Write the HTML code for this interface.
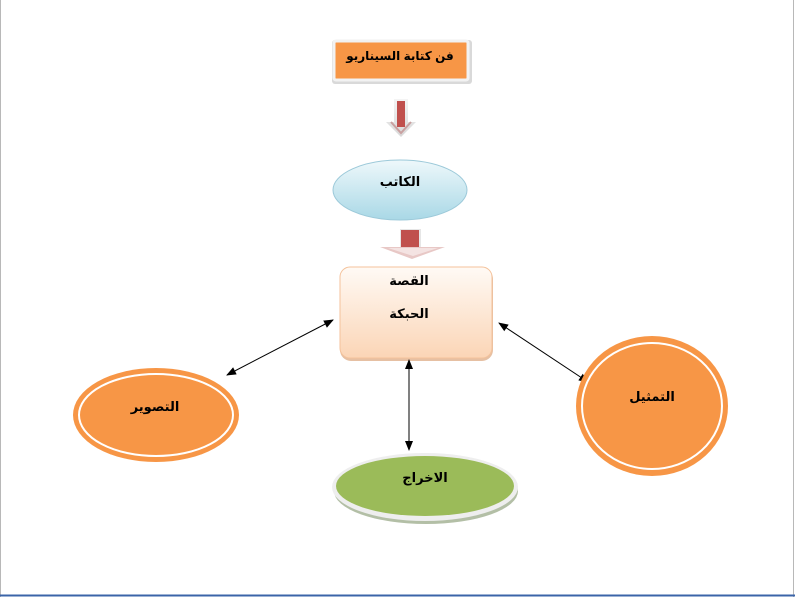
<!DOCTYPE html>
<html><head><meta charset="utf-8"><style>
html,body{margin:0;padding:0;background:#fff;}
body{width:795px;height:597px;overflow:hidden;}
text{font-family:"Liberation Sans","DejaVu Sans",sans-serif;font-weight:bold;font-size:13px;fill:#000;}
</style></head><body>
<svg width="795" height="597" viewBox="0 0 795 597" xmlns="http://www.w3.org/2000/svg">
<defs>
<linearGradient id="blue" x1="0" y1="0" x2="0" y2="1"><stop offset="0" stop-color="#eef8fb"/><stop offset="1" stop-color="#a9d8e6"/></linearGradient>
<linearGradient id="peach" x1="0" y1="0" x2="0" y2="1"><stop offset="0" stop-color="#fffaf5"/><stop offset="1" stop-color="#fbd5b6"/></linearGradient>
<linearGradient id="gray" x1="0" y1="0" x2="0" y2="1"><stop offset="0" stop-color="#f4f4f4"/><stop offset="1" stop-color="#d8d8d8"/></linearGradient>
<marker id="ah" markerWidth="10" markerHeight="10" refX="9" refY="5" orient="auto-start-reverse" markerUnits="userSpaceOnUse"><path d="M0,1 L10,5 L0,9 z" fill="#000"/></marker>
</defs>
<rect x="0" y="0" width="795" height="597" fill="#fff"/>
<line x1="0.5" y1="0" x2="0.5" y2="597" stroke="#b8b8b8"/>
<line x1="793.5" y1="0" x2="793.5" y2="597" stroke="#b8b8b8"/>
<line x1="0" y1="595.5" x2="795" y2="595.5" stroke="#3b64a8" stroke-width="2"/>

<rect x="332" y="40" width="140" height="44" rx="3" fill="#d9d9d9"/>
<rect x="334" y="41" width="134" height="39" rx="2" fill="#f79646" stroke="#f2f2f2" stroke-width="3"/>
<text x="400" y="60" text-anchor="middle" direction="rtl" style="font-size:12px;letter-spacing:-0.3px">فن كتابة السيناريو</text>

<path d="M394,99 h14 v23 h8 l-15,15 l-15,-15 h8 z" fill="url(#gray)"/>
<rect x="397" y="101" width="8" height="26" fill="#c0504d"/>
<path d="M391,122 l10,11 l10,-11" fill="none" stroke="#c9a0a0" stroke-width="2"/>

<ellipse cx="400" cy="190" rx="67" ry="30" fill="url(#blue)" stroke="#9cc9d9" stroke-width="1"/>
<text x="400" y="186" text-anchor="middle" direction="rtl">الكاتب</text>

<rect x="400" y="229" width="21" height="22" fill="#e6e6e6"/>
<rect x="401" y="230" width="18" height="20" fill="#c0504d"/>
<path d="M380,247 h65 l-33,12 z" fill="#e8c8c6"/>
<path d="M388,248 h50 l-25,8 z" fill="#f4e3e2"/>

<rect x="340" y="268" width="153" height="93" rx="11" fill="#e6c0a3"/>
<rect x="340" y="267" width="152" height="91" rx="10" fill="url(#peach)" stroke="#f4c29b" stroke-width="1"/>
<text x="409" y="285" text-anchor="middle" direction="rtl">القصة</text>
<text x="409" y="318" text-anchor="middle" direction="rtl">الحبكة</text>

<line x1="333" y1="320" x2="227" y2="375" stroke="#000" stroke-width="1" marker-start="url(#ah)" marker-end="url(#ah)"/>
<line x1="499" y1="323" x2="588" y2="382" stroke="#000" stroke-width="1" marker-start="url(#ah)" marker-end="url(#ah)"/>
<line x1="409" y1="360" x2="409" y2="450" stroke="#000" stroke-width="1" marker-start="url(#ah)" marker-end="url(#ah)"/>

<ellipse cx="156" cy="415" rx="83" ry="47" fill="#f79646"/>
<ellipse cx="156" cy="415" rx="77" ry="41" fill="none" stroke="#fff" stroke-width="2"/>
<text x="155" y="411" text-anchor="middle" direction="rtl">التصوير</text>

<ellipse cx="652" cy="406" rx="76" ry="70" fill="#f79646"/>
<ellipse cx="652" cy="406" rx="70" ry="63" fill="none" stroke="#fff" stroke-width="2"/>
<text x="652" y="401" text-anchor="middle" direction="rtl">التمثيل</text>

<ellipse cx="426" cy="491" rx="92" ry="33" fill="#b3bfa6"/>
<ellipse cx="425" cy="487" rx="93" ry="34" fill="#eeeeee"/>
<ellipse cx="425" cy="486" rx="89" ry="30" fill="#9bbb59"/>
<text x="425" y="482" text-anchor="middle" direction="rtl">الاخراج</text>
</svg>
</body></html>
